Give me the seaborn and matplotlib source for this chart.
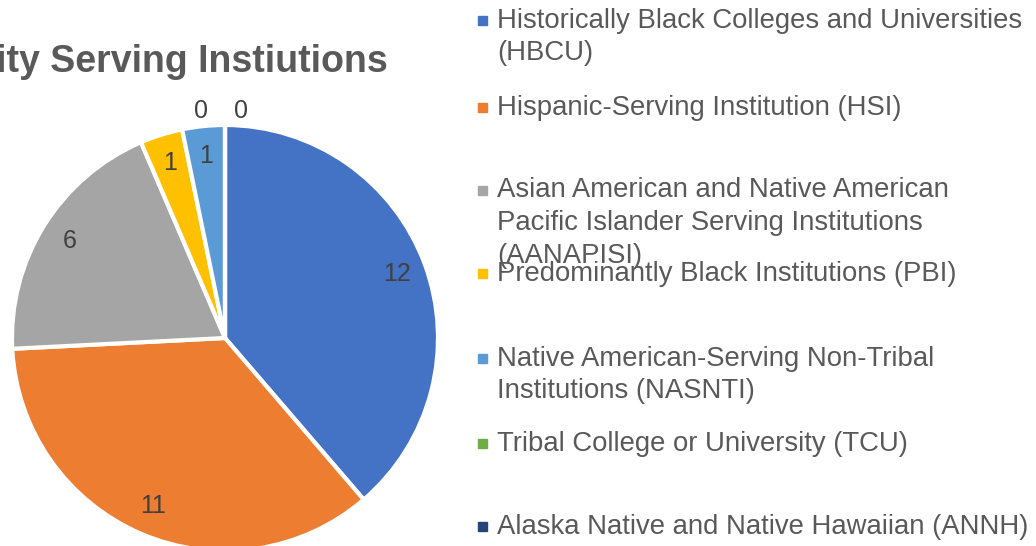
import matplotlib
matplotlib.use("Agg")
import matplotlib.pyplot as plt
import seaborn as sns
import numpy as np

sns.set_theme(style="white")
plt.rcParams['font.family'] = ['Liberation Sans', 'DejaVu Sans']

# 数据
categories = ['Historically Black Colleges and Universities\n(HBCU)',
              'Hispanic-Serving Institution (HSI)',
              'Asian American and Native American\nPacific Islander Serving Institutions\n(AANAPISI)',
              'Predominantly Black Institutions (PBI)',
              'Native American-Serving Non-Tribal\nInstitutions (NASNTI)',
              'Tribal College or University (TCU)',
              'Alaska Native and Native Hawaiian (ANNH)']
counts = [12, 11, 6, 1, 1, 0, 0]
colors = ['#4472C4', '#ED7D31', '#A5A5A5', '#FFC000', '#5B9BD5', '#70AD47', '#264478']
legend_y = [20, 107, 190, 273, 358, 443, 526]  # 图例每项首行的像素位置

W, H = 1036, 546
fig = plt.figure(figsize=(W / 100, H / 100), dpi=100)

# 饼图
cx, cy, r = 225, 338, 213
ax = fig.add_axes([(cx - r) / W, (H - cy - r) / H, 2 * r / W, 2 * r / H])
wedges, _ = ax.pie(counts, colors=colors, startangle=90, counterclock=False,
                   wedgeprops=dict(edgecolor='white', linewidth=3))
ax.set_xlim(-1, 1)
ax.set_ylim(-1, 1)
ax.set_aspect('equal')
ax.axis('off')

# 数据标签
zero_shift = [6, -4]
k = 0
for w, v in zip(wedges, counts):
    th = (w.theta1 + w.theta2) / 2
    if v == 0:
        th = th + zero_shift[k]
        k += 1
        d = 1.07
    else:
        d = 0.86
    x = d * np.cos(np.radians(th))
    y = d * np.sin(np.radians(th))
    ax.text(x, y, str(v), ha='center', va='center', fontsize=18, color='#404040')

# 标题（左侧被截断）
fig.text(388 / W, 1 - 62 / H, 'Minority Serving Instiutions', ha='right', va='center',
         fontsize=27, fontweight='bold', color='#595959')

# 图例
line_h = 32
for lab, c, y in zip(categories, colors, legend_y):
    n = lab.count('\n')
    fig.patches.append(plt.Rectangle((478 / W, 1 - (y + 5) / H), 9 / W, 9 / H,
                                     transform=fig.transFigure, color=c))
    fig.text(497 / W, 1 - (y + 1 + n * line_h / 2) / H, lab, ha='left', va='center',
             fontsize=19.8, color='#595959', linespacing=1.34)

fig.savefig('out.png', dpi=100)
